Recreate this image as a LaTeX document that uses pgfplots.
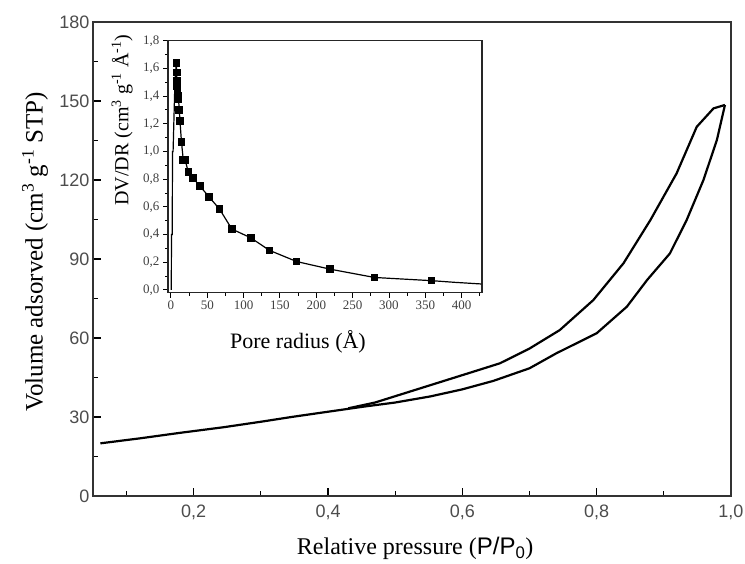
\documentclass[border=0pt]{standalone}
\usepackage{fontspec}
\setmainfont{Liberation Serif}
\setsansfont{Liberation Sans}
\usepackage{pgfplots}
\pgfplotsset{compat=1.18}
\begin{document}
\begin{tikzpicture}[x=1pt,y=1pt]
\path[use as bounding box] (0,0) rectangle (745,563);
% main axis
\begin{axis}[
  at={(93pt,67pt)}, anchor=south west,
  scale only axis, width=638pt, height=474pt,
  xmin=0.05, xmax=1.0, ymin=0, ymax=180,
  xtick={0.2,0.4,0.6,0.8,1.0},
  minor xtick={0.1,0.3,0.5,0.7,0.9},
  ytick={0,30,60,90,120,150,180},
  minor ytick={15,45,75,105,135,165},
  tick align=inside,
  xtick pos=bottom, ytick pos=left,
  major tick length=8pt, minor tick length=5pt,
  tick style={line width=1.2pt, black},
  axis line style={line width=1.5pt, black!80},
  /pgf/number format/assume math mode=true,
  xticklabel style={/pgf/number format/fixed, /pgf/number format/fixed zerofill, /pgf/number format/precision=1, /pgf/number format/use comma, yshift=-5pt},
  tick label style={font=\sffamily\fontsize{18}{18}\selectfont, text=black!70},
  xlabel={Relative pressure ({\sffamily P/P\textsubscript{0}})},
  ylabel={Volume adsorved (cm\textsuperscript{3} g\textsuperscript{-1} STP)},
  xlabel style={font=\fontsize{24}{24}\selectfont, at={(rel axis cs:0.505,-0.11)}, anchor=center},
  ylabel style={font=\fontsize{25}{25}\selectfont, at={(rel axis cs:-0.091,0.515)}, anchor=center},
]
\addplot[line width=2.2pt, black] coordinates {
(0.061,20.0) (0.12,21.9) (0.18,24.0) (0.244,26.1) (0.30,28.2) (0.348,30.1)
(0.40,32.0) (0.452,33.9) (0.50,35.5) (0.552,37.8) (0.60,40.5) (0.646,43.7)
(0.70,48.5) (0.740,54.2) (0.80,61.8) (0.845,71.9) (0.875,82.0) (0.909,92.1)
(0.934,104.8) (0.959,120.0) (0.979,135.2) (0.991,148.5)
};
\addplot[line width=2.2pt, black] coordinates {
(0.43,33.3) (0.47,35.5) (0.52,39.5) (0.57,43.5) (0.62,47.5) (0.656,50.4)
(0.70,56.0) (0.745,63.0) (0.795,74.4) (0.84,88.4) (0.88,104.8) (0.919,122.5)
(0.949,140.2) (0.974,147.2) (0.991,148.5)
};
\end{axis}
% inset
\begin{axis}[
  at={(168pt,270.3pt)}, anchor=south west,
  scale only axis, width=314pt, height=252pt,
  xmin=-4, xmax=428, ymin=-0.02, ymax=1.8,
  xtick={0,50,...,400},
  minor xtick={25,75,...,425},
  ytick={0,0.2,...,1.8},
  minor ytick={0.1,0.3,...,1.7},
  tick align=outside,
  xtick pos=bottom, ytick pos=left,
  major tick length=5pt, minor tick length=3pt,
  tick style={line width=0.9pt, black},
  axis line style={line width=1.3pt, black!85},
  axis background/.style={fill=white},
  /pgf/number format/assume math mode=true,
  yticklabel style={/pgf/number format/fixed, /pgf/number format/fixed zerofill, /pgf/number format/precision=1, /pgf/number format/use comma},
  tick label style={font=\fontsize{13}{13}\selectfont, text=black!75},
  xlabel={Pore radius (Å)},
  ylabel={DV/DR (cm\textsuperscript{3} g\textsuperscript{-1} Å\textsuperscript{-1})},
  xlabel style={font=\fontsize{22}{22}\selectfont, at={(rel axis cs:0.414,-0.196)}, anchor=center},
  ylabel style={font=\fontsize{20}{20}\selectfont, at={(rel axis cs:-0.146,0.685)}, anchor=center},
]
\addplot[line width=1.2pt, black] coordinates {
(0.5,0) (0.8,0.4) (1.8,0.4) (2.2,1.0) (3,1.0) (5.5,1.5) (7.5,1.64)
};
\addplot[line width=1.2pt, black, mark=square*, mark size=3.2pt, mark options={solid, fill=black}] coordinates {
(7.5,1.64) (8,1.57) (8.3,1.51) (8.6,1.47) (9,1.44) (9.8,1.40) (10.5,1.38)
(11.5,1.30) (12.5,1.22) (14.5,1.07) (17,0.94) (19.5,0.94) (24,0.85) (30,0.81)
(40,0.75) (52.7,0.67) (66.8,0.585) (83.8,0.44) (110,0.376) (135.5,0.286)
(173,0.205) (219,0.15) (280,0.09) (358.5,0.067)
};
\addplot[line width=1.2pt, black] coordinates {
(358.5,0.067) (390,0.055) (427,0.043)
};
\end{axis}
\end{tikzpicture}
\end{document}
